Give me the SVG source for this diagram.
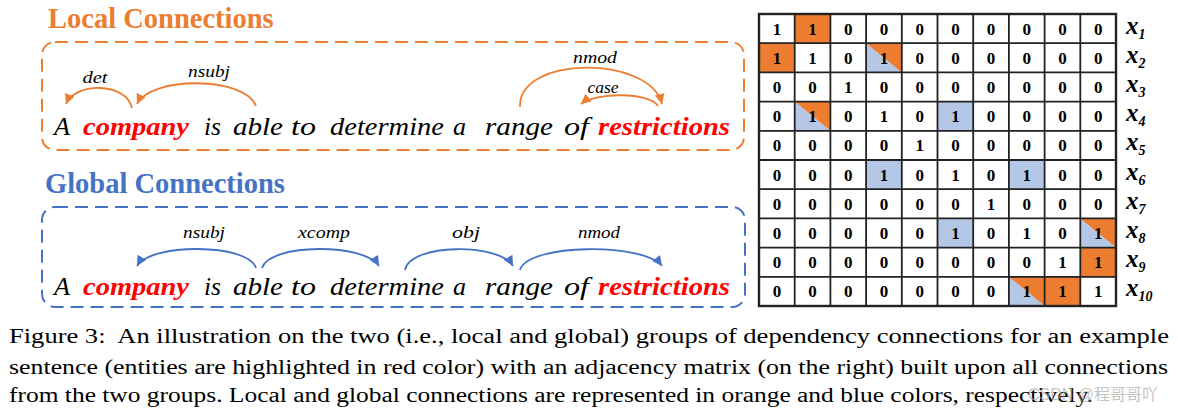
<svg xmlns="http://www.w3.org/2000/svg" width="1178" height="413" viewBox="0 0 1178 413">
<style>
.title{font-family:"Liberation Serif",serif;font-weight:bold;font-size:28.5px}
.w{font-family:"Liberation Serif",serif;font-style:italic;font-size:25.5px;fill:#000}
.ent{font-weight:bold;fill:#ff0000}
.lbl{font-family:"Liberation Serif",serif;font-style:italic;font-size:16px;fill:#000;text-anchor:middle}
.or{fill:none;stroke:#ed7d31;stroke-width:1.8}
.bl{fill:none;stroke:#4472c4;stroke-width:1.8}
.num{font-family:"Liberation Serif",serif;font-weight:bold;font-size:17px;text-anchor:middle;fill:#000}
.rl{font-family:"Liberation Serif",serif;font-weight:bold;font-style:italic;font-size:25px;fill:#000}
.sub{font-size:14px}
.cap{font-family:"Liberation Serif",serif;font-size:20.5px;fill:#000}
.co{fill:#ed7d31}
.cb{fill:#b4c7e7}
</style>
<defs>
<marker id="ao" markerUnits="userSpaceOnUse" markerWidth="12" markerHeight="10" refX="10" refY="5" orient="auto"><path d="M0,0 L10,5 L0,10 Z" fill="#ed7d31"/></marker>
<marker id="ab" markerUnits="userSpaceOnUse" markerWidth="12" markerHeight="10" refX="10" refY="5" orient="auto"><path d="M0,0 L10,5 L0,10 Z" fill="#4472c4"/></marker>
</defs>
<rect width="1178" height="413" fill="#fff"/>

<g id="local-panel">
<text class="title" x="48" y="28" fill="#ed7d31">Local Connections</text>
<rect x="42" y="42" width="702" height="108" rx="13" fill="none" stroke="#ed7d31" stroke-width="2" stroke-dasharray="13 7"/>
<g id="local-sentence">
<text class="w" x="54" y="135" textLength="16" lengthAdjust="spacingAndGlyphs">A</text>
<text class="w ent" x="83" y="135" textLength="106" lengthAdjust="spacingAndGlyphs">company</text>
<text class="w" x="204" y="135" textLength="17" lengthAdjust="spacingAndGlyphs">is</text>
<text class="w" x="233" y="135" textLength="50" lengthAdjust="spacingAndGlyphs">able</text>
<text class="w" x="291" y="135" textLength="25" lengthAdjust="spacingAndGlyphs">to</text>
<text class="w" x="330" y="135" textLength="114" lengthAdjust="spacingAndGlyphs">determine</text>
<text class="w" x="453" y="135" textLength="13" lengthAdjust="spacingAndGlyphs">a</text>
<text class="w" x="485" y="135" textLength="68" lengthAdjust="spacingAndGlyphs">range</text>
<text class="w" x="564" y="135" textLength="25" lengthAdjust="spacingAndGlyphs">of</text>
<text class="w ent" x="598" y="135" textLength="132" lengthAdjust="spacingAndGlyphs">restrictions</text>
</g>
</g>

<g id="local-connectors">
<path class="or" d="M132,108 C126,82 75,82 66,104" marker-end="url(#ao)"/>
<path class="or" d="M256,106 C245,76 150,76 137,104" marker-end="url(#ao)"/>
<path class="or" d="M520,107 C518,55 650,55 662,104" marker-end="url(#ao)"/>
<path class="or" d="M658,106 C650,92 595,92 581,104" marker-end="url(#ao)"/>
<text class="lbl" x="95" y="83" textLength="25" lengthAdjust="spacingAndGlyphs">det</text>
<text class="lbl" x="209" y="77" textLength="42" lengthAdjust="spacingAndGlyphs">nsubj</text>
<text class="lbl" x="595" y="63" textLength="44" lengthAdjust="spacingAndGlyphs">nmod</text>
<text class="lbl" x="603" y="93" textLength="31" lengthAdjust="spacingAndGlyphs">case</text>
</g>

<g id="global-panel">
<text class="title" x="45" y="193" fill="#4472c4">Global Connections</text>
<rect x="42" y="207" width="703" height="100" rx="13" fill="none" stroke="#4472c4" stroke-width="2" stroke-dasharray="13 7"/>
<g id="global-sentence">
<text class="w" x="54" y="295" textLength="16" lengthAdjust="spacingAndGlyphs">A</text>
<text class="w ent" x="83" y="295" textLength="106" lengthAdjust="spacingAndGlyphs">company</text>
<text class="w" x="204" y="295" textLength="17" lengthAdjust="spacingAndGlyphs">is</text>
<text class="w" x="233" y="295" textLength="50" lengthAdjust="spacingAndGlyphs">able</text>
<text class="w" x="291" y="295" textLength="25" lengthAdjust="spacingAndGlyphs">to</text>
<text class="w" x="330" y="295" textLength="114" lengthAdjust="spacingAndGlyphs">determine</text>
<text class="w" x="453" y="295" textLength="13" lengthAdjust="spacingAndGlyphs">a</text>
<text class="w" x="485" y="295" textLength="68" lengthAdjust="spacingAndGlyphs">range</text>
<text class="w" x="564" y="295" textLength="25" lengthAdjust="spacingAndGlyphs">of</text>
<text class="w ent" x="598" y="295" textLength="132" lengthAdjust="spacingAndGlyphs">restrictions</text>
</g>
</g>

<g id="global-connectors">
<path class="bl" d="M256,268 C248,243 150,243 137,266" marker-end="url(#ab)"/>
<path class="bl" d="M262,268 C270,243 365,243 379,266" marker-end="url(#ab)"/>
<path class="bl" d="M405,270 C410,243 500,243 513,266" marker-end="url(#ab)"/>
<path class="bl" d="M520,270 C528,243 645,243 662,266" marker-end="url(#ab)"/>
<text class="lbl" x="204" y="238" textLength="42" lengthAdjust="spacingAndGlyphs">nsubj</text>
<text class="lbl" x="324" y="238" textLength="52" lengthAdjust="spacingAndGlyphs">xcomp</text>
<text class="lbl" x="466" y="238" textLength="28" lengthAdjust="spacingAndGlyphs">obj</text>
<text class="lbl" x="599" y="238" textLength="42" lengthAdjust="spacingAndGlyphs">nmod</text>
</g>

<g id="matrix">
<g id="fills">
<rect class="co" x="794.7" y="14" width="35.7" height="29.2"/>
<rect class="co" x="759" y="43.2" width="35.7" height="29.2"/>
<polygon class="cb" points="866.1,43.2 901.8,72.4 866.1,72.4"/>
<polygon class="co" points="866.1,43.2 901.8,43.2 901.8,72.4"/>
<polygon class="cb" points="794.7,101.6 830.4,130.8 794.7,130.8"/>
<polygon class="co" points="794.7,101.6 830.4,101.6 830.4,130.8"/>
<rect class="cb" x="937.5" y="101.6" width="35.7" height="29.2"/>
<rect class="cb" x="866.1" y="160" width="35.7" height="29.2"/>
<rect class="cb" x="1008.9" y="160" width="35.7" height="29.2"/>
<rect class="cb" x="937.5" y="218.4" width="35.7" height="29.2"/>
<polygon class="cb" points="1080.3,218.4 1116,247.6 1080.3,247.6"/>
<polygon class="co" points="1080.3,218.4 1116,218.4 1116,247.6"/>
<rect class="co" x="1080.3" y="247.6" width="35.7" height="29.2"/>
<polygon class="cb" points="1008.9,276.8 1044.6,306 1008.9,306"/>
<polygon class="co" points="1008.9,276.8 1044.6,276.8 1044.6,306"/>
<rect class="co" x="1044.6" y="276.8" width="35.7" height="29.2"/>
</g>
<g id="grid" stroke="#222" stroke-width="1.8" fill="none">
<rect x="759" y="14" width="357" height="292" stroke-width="2.4"/>
<path d="M794.7,14V306M830.4,14V306M866.1,14V306M901.8,14V306M937.5,14V306M973.2,14V306M1008.9,14V306M1044.6,14V306M1080.3,14V306"/>
<path d="M759,43.2H1116M759,72.4H1116M759,101.6H1116M759,130.8H1116M759,160H1116M759,189.2H1116M759,218.4H1116M759,247.6H1116M759,276.8H1116"/>
</g>
<g id="values">
<text class="num" y="34.6"><tspan x="776.9">1</tspan><tspan x="812.6">1</tspan><tspan x="848.3">0</tspan><tspan x="884">0</tspan><tspan x="919.7">0</tspan><tspan x="955.4">0</tspan><tspan x="991.1">0</tspan><tspan x="1026.8">0</tspan><tspan x="1062.5">0</tspan><tspan x="1098.2">0</tspan></text>
<text class="num" y="63.8"><tspan x="776.9">1</tspan><tspan x="812.6">1</tspan><tspan x="848.3">0</tspan><tspan x="884">1</tspan><tspan x="919.7">0</tspan><tspan x="955.4">0</tspan><tspan x="991.1">0</tspan><tspan x="1026.8">0</tspan><tspan x="1062.5">0</tspan><tspan x="1098.2">0</tspan></text>
<text class="num" y="93"><tspan x="776.9">0</tspan><tspan x="812.6">0</tspan><tspan x="848.3">1</tspan><tspan x="884">0</tspan><tspan x="919.7">0</tspan><tspan x="955.4">0</tspan><tspan x="991.1">0</tspan><tspan x="1026.8">0</tspan><tspan x="1062.5">0</tspan><tspan x="1098.2">0</tspan></text>
<text class="num" y="122.2"><tspan x="776.9">0</tspan><tspan x="812.6">1</tspan><tspan x="848.3">0</tspan><tspan x="884">1</tspan><tspan x="919.7">0</tspan><tspan x="955.4">1</tspan><tspan x="991.1">0</tspan><tspan x="1026.8">0</tspan><tspan x="1062.5">0</tspan><tspan x="1098.2">0</tspan></text>
<text class="num" y="151.4"><tspan x="776.9">0</tspan><tspan x="812.6">0</tspan><tspan x="848.3">0</tspan><tspan x="884">0</tspan><tspan x="919.7">1</tspan><tspan x="955.4">0</tspan><tspan x="991.1">0</tspan><tspan x="1026.8">0</tspan><tspan x="1062.5">0</tspan><tspan x="1098.2">0</tspan></text>
<text class="num" y="180.6"><tspan x="776.9">0</tspan><tspan x="812.6">0</tspan><tspan x="848.3">0</tspan><tspan x="884">1</tspan><tspan x="919.7">0</tspan><tspan x="955.4">1</tspan><tspan x="991.1">0</tspan><tspan x="1026.8">1</tspan><tspan x="1062.5">0</tspan><tspan x="1098.2">0</tspan></text>
<text class="num" y="209.8"><tspan x="776.9">0</tspan><tspan x="812.6">0</tspan><tspan x="848.3">0</tspan><tspan x="884">0</tspan><tspan x="919.7">0</tspan><tspan x="955.4">0</tspan><tspan x="991.1">1</tspan><tspan x="1026.8">0</tspan><tspan x="1062.5">0</tspan><tspan x="1098.2">0</tspan></text>
<text class="num" y="239"><tspan x="776.9">0</tspan><tspan x="812.6">0</tspan><tspan x="848.3">0</tspan><tspan x="884">0</tspan><tspan x="919.7">0</tspan><tspan x="955.4">1</tspan><tspan x="991.1">0</tspan><tspan x="1026.8">1</tspan><tspan x="1062.5">0</tspan><tspan x="1098.2">1</tspan></text>
<text class="num" y="268.2"><tspan x="776.9">0</tspan><tspan x="812.6">0</tspan><tspan x="848.3">0</tspan><tspan x="884">0</tspan><tspan x="919.7">0</tspan><tspan x="955.4">0</tspan><tspan x="991.1">0</tspan><tspan x="1026.8">0</tspan><tspan x="1062.5">1</tspan><tspan x="1098.2">1</tspan></text>
<text class="num" y="297.4"><tspan x="776.9">0</tspan><tspan x="812.6">0</tspan><tspan x="848.3">0</tspan><tspan x="884">0</tspan><tspan x="919.7">0</tspan><tspan x="955.4">0</tspan><tspan x="991.1">0</tspan><tspan x="1026.8">1</tspan><tspan x="1062.5">1</tspan><tspan x="1098.2">1</tspan></text>
</g>
<g id="row-labels">
<text class="rl" x="1126" y="33.6">x<tspan class="sub" dy="5">1</tspan></text>
<text class="rl" x="1126" y="62.8" fill="#ff0000">x<tspan class="sub" dy="5">2</tspan></text>
<text class="rl" x="1126" y="92">x<tspan class="sub" dy="5">3</tspan></text>
<text class="rl" x="1126" y="121.2">x<tspan class="sub" dy="5">4</tspan></text>
<text class="rl" x="1126" y="150.4">x<tspan class="sub" dy="5">5</tspan></text>
<text class="rl" x="1126" y="179.6">x<tspan class="sub" dy="5">6</tspan></text>
<text class="rl" x="1126" y="208.8">x<tspan class="sub" dy="5">7</tspan></text>
<text class="rl" x="1126" y="238">x<tspan class="sub" dy="5">8</tspan></text>
<text class="rl" x="1126" y="267.2">x<tspan class="sub" dy="5">9</tspan></text>
<text class="rl" x="1126" y="296.4" fill="#ff0000">x<tspan class="sub" dy="5">10</tspan></text>
</g>
</g>

<g id="caption">
<text class="cap" x="9" y="343" textLength="1160" lengthAdjust="spacingAndGlyphs" xml:space="preserve">Figure 3:  An illustration on the two (i.e., local and global) groups of dependency connections for an example</text>
<text class="cap" x="9" y="374" textLength="1159" lengthAdjust="spacingAndGlyphs">sentence (entities are highlighted in red color) with an adjacency matrix (on the right) built upon all connections</text>
<text class="cap" x="9" y="402" textLength="1084" lengthAdjust="spacingAndGlyphs">from the two groups. Local and global connections are represented in orange and blue colors, respectively.</text>
<text x="1028" y="400" font-family="'Liberation Sans','Noto Sans CJK SC',sans-serif" font-size="16" fill="#aaa" fill-opacity="0.7">CSDN @程哥哥吖</text>
</g>
</svg>
